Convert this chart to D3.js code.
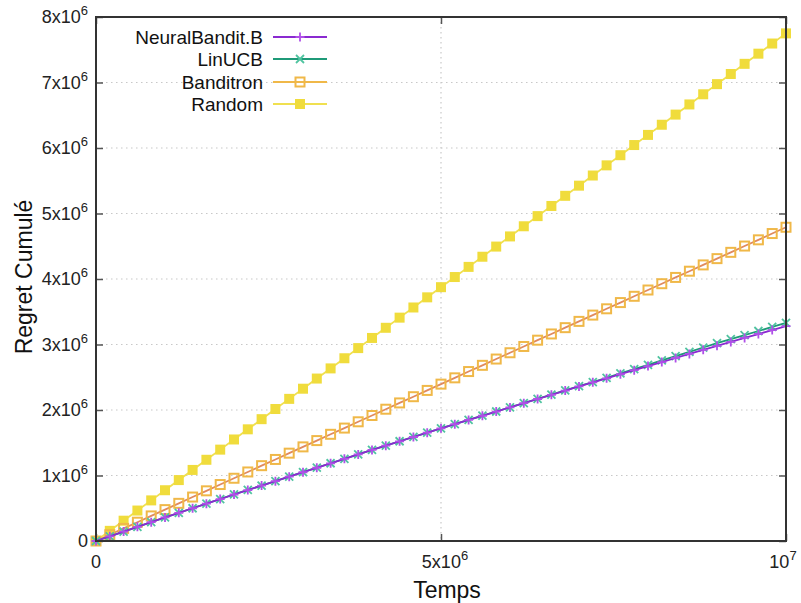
<!DOCTYPE html>
<html><head><meta charset="utf-8">
<script src="https://cdn.jsdelivr.net/npm/d3@7"></script>
<style>body{margin:0;background:#fff}svg{display:block;font-family:"Liberation Sans",Arial,sans-serif}</style>
</head><body><svg id="c" width="801" height="603"></svg>
<script>
// time points (units of 1e6 steps), every 2e5
const timeSteps = [0,0.2,0.4,0.6,0.8,1.0,1.2,1.4,1.6,1.8,2.0,2.2,2.4,2.6,2.8,3.0,3.2,3.4,3.6,3.8,4.0,4.2,4.4,4.6,4.8,5.0,5.2,5.4,5.6,5.8,6.0,6.2,6.4,6.6,6.8,7.0,7.2,7.4,7.6,7.8,8.0,8.2,8.4,8.6,8.8,9.0,9.2,9.4,9.6,9.8,10.0];
// cumulative regret (units of 1e6)
const neuralBandit = [0,0.072,0.144,0.216,0.288,0.36,0.43,0.50,0.57,0.64,0.71,0.778,0.846,0.914,0.982,1.05,1.118,1.186,1.254,1.322,1.39,1.456,1.522,1.588,1.654,1.72,1.784,1.848,1.912,1.976,2.04,2.104,2.168,2.232,2.296,2.36,2.422,2.484,2.546,2.608,2.67,2.732,2.794,2.856,2.918,2.98,3.04,3.10,3.16,3.22,3.28];
const linUCB = [0,0.071,0.143,0.215,0.287,0.359,0.43,0.50,0.571,0.641,0.711,0.779,0.847,0.915,0.983,1.051,1.119,1.187,1.255,1.323,1.391,1.457,1.523,1.589,1.655,1.721,1.785,1.849,1.913,1.977,2.041,2.105,2.17,2.235,2.299,2.363,2.426,2.492,2.558,2.624,2.69,2.756,2.822,2.888,2.954,3.02,3.082,3.144,3.206,3.268,3.33];
const banditron = [0,0.096,0.192,0.287,0.383,0.479,0.575,0.671,0.766,0.862,0.958,1.054,1.150,1.245,1.341,1.437,1.533,1.629,1.724,1.820,1.916,2.012,2.108,2.203,2.299,2.395,2.491,2.587,2.682,2.778,2.874,2.970,3.066,3.161,3.257,3.353,3.449,3.545,3.640,3.736,3.832,3.928,4.024,4.119,4.215,4.311,4.407,4.503,4.598,4.694,4.790];
const random = [0,0.155,0.31,0.465,0.62,0.775,0.93,1.085,1.24,1.395,1.55,1.705,1.86,2.015,2.17,2.325,2.48,2.635,2.79,2.945,3.10,3.255,3.41,3.565,3.72,3.875,4.03,4.185,4.34,4.495,4.65,4.805,4.96,5.115,5.27,5.425,5.58,5.735,5.89,6.045,6.20,6.355,6.51,6.665,6.82,6.975,7.13,7.285,7.44,7.595,7.75];
const seriesNames = ["NeuralBandit.B","LinUCB","Banditron","Random"];
const yTicks = [0,1,2,3,4,5,6,7,8];
const yTickLabels = [["0",""],["1x10","6"],["2x10","6"],["3x10","6"],["4x10","6"],["5x10","6"],["6x10","6"],["7x10","6"],["8x10","6"]];
const xTicks = [0,5,10];
const xTickLabels = [["0",""],["5x10","6"],["10","7"]];

const svg = d3.select("#c");
const L=96,R=786,T=17,B=541;
const x = d3.scaleLinear().domain([0,10]).range([L,R]);
const y = d3.scaleLinear().domain([0,8]).range([B,T]);

// grid
const g = svg.append("g");
g.selectAll(".gy").data(yTicks.slice(1,-1)).join("line")
  .attr("x1",L).attr("x2",R).attr("y1",d=>y(d)).attr("y2",d=>y(d))
  .attr("stroke","#c8c8c8").attr("stroke-width",1.2).attr("stroke-dasharray","1.5,3.5");
g.selectAll(".gx").data([5]).join("line")
  .attr("y1",T).attr("y2",B).attr("x1",d=>x(d)).attr("x2",d=>x(d))
  .attr("stroke","#c8c8c8").attr("stroke-width",1.2).attr("stroke-dasharray","1.5,3.5");

// axes ticks (inward)
function styleAx(s){s.select(".domain").remove();s.selectAll("line").attr("stroke","#555").attr("stroke-width",1.5);}
svg.append("g").attr("transform",`translate(${L},0)`).call(d3.axisRight(y).tickValues(yTicks).tickSize(7).tickFormat("")).call(styleAx);
svg.append("g").attr("transform",`translate(${R},0)`).call(d3.axisLeft(y).tickValues(yTicks).tickSize(7).tickFormat("")).call(styleAx);
svg.append("g").attr("transform",`translate(0,${B})`).call(d3.axisTop(x).tickValues(xTicks).tickSize(7).tickFormat("")).call(styleAx);
svg.append("g").attr("transform",`translate(0,${T})`).call(d3.axisBottom(x).tickValues(xTicks).tickSize(7).tickFormat("")).call(styleAx);

// tick labels
function lab(sel, parts){
  sel.append("tspan").text(parts[0]);
  if(parts[1]) sel.append("tspan").attr("font-size",13).attr("dy",-8).text(parts[1]);
}
yTicks.forEach((v,i)=>{
  const t = svg.append("text").attr("x",88).attr("y",y(v)+6).attr("text-anchor","end").attr("font-size",18).attr("fill","#222");
  lab(t,yTickLabels[i]);
});
xTicks.forEach((v,i)=>{
  const dx = i===0?0:(i===2?-3:4);
  const t = svg.append("text").attr("x",x(v)+dx).attr("y",568).attr("text-anchor","middle").attr("font-size",18).attr("fill","#222");
  lab(t,xTickLabels[i]);
});
svg.append("text").attr("x",447).attr("y",598).attr("text-anchor","middle").attr("font-size",23).attr("fill","#111").text("Temps");
svg.append("text").attr("transform","translate(32,277) rotate(-90)").attr("text-anchor","middle").attr("font-size",23).attr("fill","#111").text("Regret Cumulé");

// series
const series = [
  {name:seriesNames[0], vals:neuralBandit, line:"#8a2ad0", mark:"#b050e8", type:"plus"},
  {name:seriesNames[1], vals:linUCB, line:"#1f9a78", mark:"#50c4a0", type:"cross"},
  {name:seriesNames[2], vals:banditron, line:"#e08a5e", mark:"#f0b848", type:"osq"},
  {name:seriesNames[3], vals:random, line:"#f0e050", mark:"#f0dc3c", type:"fsq"}
];
const line = d3.line().x((d,i)=>x(timeSteps[i])).y(d=>y(d));
function marker(sel, s, px, py){
  if(s.type==="plus"){
    sel.append("path").attr("d",`M${px-4.5},${py}H${px+4.5}M${px},${py-4.5}V${py+4.5}`).attr("stroke",s.mark).attr("stroke-width",1.8).attr("fill","none");
  } else if(s.type==="cross"){
    sel.append("path").attr("d",`M${px-4},${py-4}L${px+4},${py+4}M${px-4},${py+4}L${px+4},${py-4}`).attr("stroke",s.mark).attr("stroke-width",1.8).attr("fill","none");
  } else if(s.type==="osq"){
    sel.append("rect").attr("x",px-4.5).attr("y",py-4.5).attr("width",9).attr("height",9).attr("stroke",s.mark).attr("stroke-width",2).attr("fill","none");
  } else {
    sel.append("rect").attr("x",px-5).attr("y",py-5).attr("width",10).attr("height",10).attr("fill",s.mark);
  }
}
[3,2,1,0].forEach(k=>{
  const s = series[k];
  const gg = svg.append("g");
  gg.append("path").attr("d",line(s.vals)).attr("fill","none").attr("stroke",s.line).attr("stroke-width",1.8);
  s.vals.forEach((v,i)=>marker(gg,s,x(timeSteps[i]),y(v)));
});

// border
svg.append("rect").attr("x",L).attr("y",T).attr("width",R-L).attr("height",B-T).attr("fill","none").attr("stroke","#333").attr("stroke-width",2);

// legend
const legY = [37,59,82,104];
series.forEach((s,i)=>{
  svg.append("text").attr("x",263).attr("y",legY[i]+7).attr("text-anchor","end").attr("font-size",19).attr("fill","#111").text(s.name);
  const lg = svg.append("g");
  lg.append("line").attr("x1",273).attr("x2",327).attr("y1",legY[i]).attr("y2",legY[i]).attr("stroke",s.type==="osq"?s.mark:s.line).attr("stroke-width",1.8);
  marker(lg,s,300,legY[i]);
});
</script></body></html>
